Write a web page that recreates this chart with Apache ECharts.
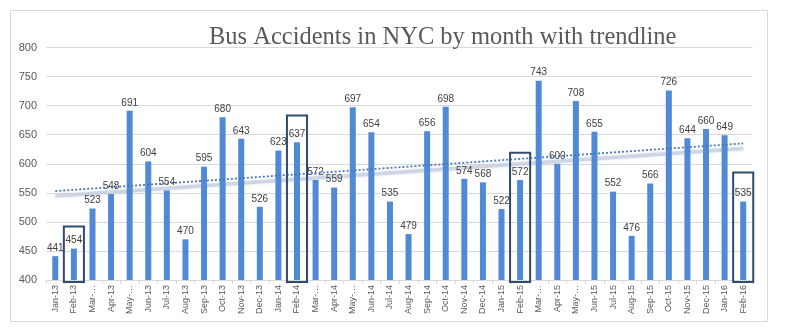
<!DOCTYPE html>
<html>
<head>
<meta charset="utf-8">
<script src="https://cdn.jsdelivr.net/npm/echarts@6/dist/echarts.min.js"></script>
<style>
  html, body { margin: 0; padding: 0; background: #ffffff; }
  #chart { width: 788px; height: 335px; }
</style>
</head>
<body>
<div id="chart"></div>
<script>
// ---- Data ----
const months = [
  'Jan-13','Feb-13','Mar-13','Apr-13','May-13','Jun-13','Jul-13','Aug-13','Sep-13','Oct-13','Nov-13','Dec-13',
  'Jan-14','Feb-14','Mar-14','Apr-14','May-14','Jun-14','Jul-14','Aug-14','Sep-14','Oct-14','Nov-14','Dec-14',
  'Jan-15','Feb-15','Mar-15','Apr-15','May-15','Jun-15','Jul-15','Aug-15','Sep-15','Oct-15','Nov-15','Dec-15',
  'Jan-16','Feb-16'
];
const accidents = [
  441, 454, 523, 548, 691, 604, 554, 470, 595, 680, 643, 526,
  623, 637, 572, 559, 697, 654, 535, 479, 656, 698, 574, 568,
  522, 572, 743, 600, 708, 655, 552, 476, 566, 726, 644, 660,
  649, 535
];
// Trendline end values
const trendStart = 553;
const trendEnd = 635;
// Highlighted months (boxes) and the value at each box's top edge
const highlightMonths = ['Feb-13', 'Feb-14', 'Feb-15', 'Feb-16'];
const highlightTops = [492, 683, 619, 585];
const yTicks = { min: 400, max: 800, interval: 50 };
const titleText = 'Bus Accidents in NYC by month with trendline';

// ---- Derived series ----
const trendData = months.map((m, i) => i === 0 ? trendStart : (i === months.length - 1 ? trendEnd : null));
const boxData = highlightMonths.map((m, i) => [months.indexOf(m), highlightTops[i]]);

const gridMain = { left: 46, right: 35.5, top: 47.5, bottom: 55 };
const shadowShift = 5;

const chart = echarts.init(document.getElementById('chart'), null, { renderer: 'canvas' });
chart.setOption({
  animation: false,
  backgroundColor: '#ffffff',
  title: {
    text: titleText,
    left: 204,
    top: 20,
    textStyle: { fontFamily: 'Liberation Serif', fontSize: 24.5, fontWeight: 'normal', color: '#595959' }
  },
  graphic: [{
    type: 'rect',
    shape: { x: 10.5, y: 10.5, width: 757, height: 311 },
    style: { fill: 'none', stroke: '#d9d9d9', lineWidth: 1 },
    silent: true, z: -1
  }],
  grid: [
    gridMain,
    { left: gridMain.left, right: gridMain.right, top: gridMain.top + shadowShift, bottom: gridMain.bottom - shadowShift }
  ],
  xAxis: [{
    type: 'category',
    data: months,
    gridIndex: 0,
    boundaryGap: true,
    axisLine: { show: true, lineStyle: { color: '#d9d9d9', width: 1 } },
    axisTick: { show: true, length: 4, alignWithLabel: false, lineStyle: { color: '#d9d9d9' } },
    axisLabel: {
      interval: 0,
      rotate: 90,
      margin: 5,
      color: '#595959',
      fontFamily: 'Liberation Sans Narrow, Liberation Sans',
      fontSize: 9,
      formatter: (v) => (v.startsWith('Mar') || v.startsWith('May')) ? v.slice(0, 4) + '…' : v
    }
  }, {
    type: 'category',
    data: months,
    gridIndex: 1,
    show: false
  }],
  yAxis: [{
    type: 'value',
    gridIndex: 0,
    min: yTicks.min,
    max: yTicks.max,
    interval: yTicks.interval,
    axisLine: { show: false },
    axisTick: { show: false },
    splitLine: { lineStyle: { color: '#d9d9d9', width: 1 } },
    axisLabel: { color: '#595959', fontFamily: 'Liberation Sans Narrow, Liberation Sans', fontSize: 11, margin: 9 }
  }, {
    type: 'value',
    gridIndex: 1,
    min: yTicks.min,
    max: yTicks.max,
    show: false,
    splitLine: { show: false }
  }],
  series: [
    {
      name: 'trend shadow',
      type: 'line',
      xAxisIndex: 1,
      yAxisIndex: 1,
      data: trendData,
      connectNulls: true,
      symbol: 'none',
      silent: true,
      z: 1,
      lineStyle: { color: 'rgba(198,207,223,0.75)', width: 3.5, shadowColor: 'rgba(190,200,218,0.7)', shadowBlur: 3 }
    },
    {
      name: 'Accidents',
      type: 'bar',
      data: accidents,
      barWidth: 6,
      z: 2,
      itemStyle: { color: '#5089d6' },
      label: {
        show: true,
        position: 'top',
        distance: 3,
        color: '#404040',
        fontFamily: 'Liberation Sans',
        fontSize: 10
      }
    },
    {
      name: 'Trendline',
      type: 'line',
      data: trendData,
      connectNulls: true,
      symbol: 'none',
      silent: true,
      z: 3,
      lineStyle: { color: '#4a79b8', width: 1.8, type: [2, 2] }
    },
    {
      name: 'Highlights',
      type: 'custom',
      data: boxData,
      z: 4,
      silent: true,
      renderItem: function (params, api) {
        const idx = api.value(0);
        const top = api.coord([idx, api.value(1)]);
        const bottom = api.coord([idx, yTicks.min]);
        const w = api.size([1, 0])[0] * 1.08;
        return {
          type: 'rect',
          shape: { x: top[0] - w / 2, y: top[1], width: w, height: bottom[1] - top[1] + 2 },
          style: { fill: 'none', stroke: '#2f4b6e', lineWidth: 2 }
        };
      }
    }
  ]
});
</script>
</body>
</html>
